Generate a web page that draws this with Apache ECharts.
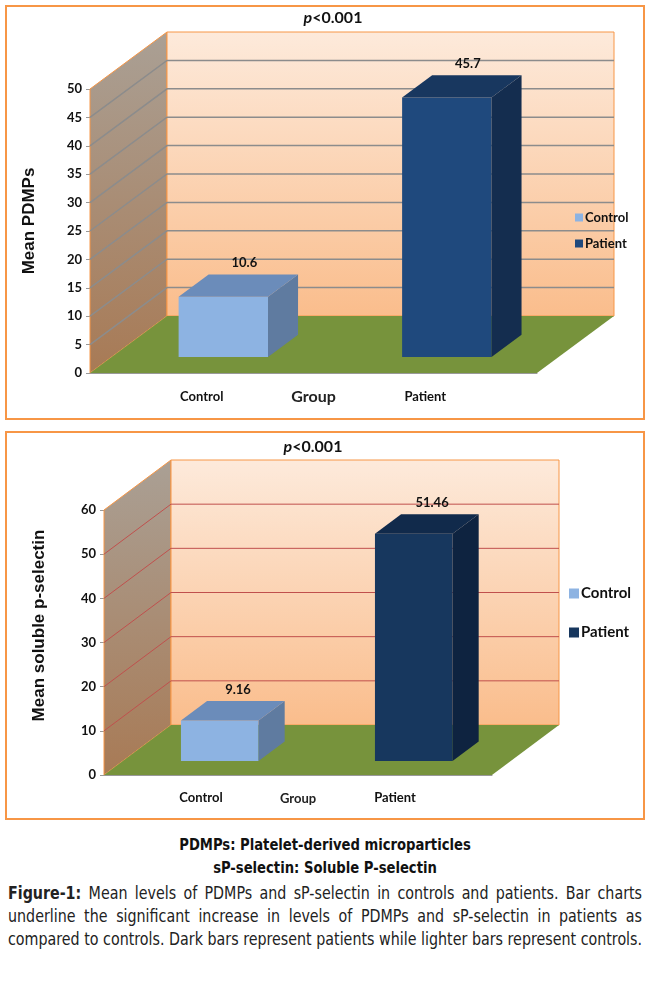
<!DOCTYPE html>
<html lang="en">

<head>
    <title>Mean PDMPs and sP-selectin</title>
    <meta charset="utf-8">
    <style>
        body {
            margin: 0;
            background-color: white;
            width: 650px;
            height: 984px;
            position: relative;
            overflow: hidden;
        }

        .frame {
            position: absolute;
            left: 5px;
            width: 636px;
            border: 2px solid #f79646;
        }

        .chart {
            position: absolute;
            left: 0;
            width: 650px;
        }

        .notes {
            position: absolute;
            left: 0;
            top: 833px;
            width: 650px;
            text-align: center;
            font-family: "DejaVu Sans Condensed", "DejaVu Sans", sans-serif;
            font-weight: bold;
            font-size: 16px;
            line-height: 23px;
            color: #111;
            transform: scaleX(0.915);
            transform-origin: 325px 0;
        }

        .caption {
            position: absolute;
            left: 8px;
            top: 881px;
            font-family: "DejaVu Sans Condensed", "DejaVu Sans", sans-serif;
            font-size: 18px;
            line-height: 23px;
            color: #222;
        }

        /* stretch each line to the page width, then squeeze it like a condensed face */
        .caption div {
            width: 720px;
            text-align: justify;
            text-align-last: justify;
            white-space: nowrap;
            transform: scaleX(0.8806);
            transform-origin: 0 0;
        }
    </style>
</head>

<body>
    <div class="frame" style="top: 5px; height: 411px"></div>
    <div class="frame" style="top: 431px; height: 385px"></div>
    <div id="chart1" class="chart" style="top: 0; height: 425px"></div>
    <div id="chart2" class="chart" style="top: 425px; height: 400px"></div>

    <div class="notes">
        <div>PDMPs: Platelet-derived microparticles</div>
        <div>sP-selectin: Soluble P-selectin</div>
    </div>
    <div class="caption">
        <div><b>Figure-1:</b> Mean levels of PDMPs and sP-selectin in controls and patients. Bar charts</div>
        <div>underline the significant increase in levels of PDMPs and sP-selectin in patients as</div>
        <div>compared to controls. Dark bars represent patients while lighter bars represent controls.</div>
    </div>

    <script src="https://cdn.jsdelivr.net/npm/echarts@6/dist/echarts.min.js"></script>
    <script>
        // data
        var groups = ["Control", "Patient"];
        var pdmpValues = [10.6, 45.7];
        var pdmpTicks = [0, 5, 10, 15, 20, 25, 30, 35, 40, 45, 50];
        var selectinValues = [9.16, 51.46];
        var selectinTicks = [0, 10, 20, 30, 40, 50, 60];
        var pText = "p<0.001";

        var FONT = "Lato, 'Liberation Sans', sans-serif";
        var ORANGE = "#f79646";

        // walls, floor and gridlines, offset (dx, dy) into depth
        function sceneItem(cfg) {
            return function (params, api) {
                var cs = params.coordSys;
                var x0 = cs.x, x1 = cs.x + cs.width;
                var yb = api.coord([0, 0])[1];
                var yt = api.coord([0, cfg.ticks[cfg.ticks.length - 1]])[1];
                var dx = cfg.dx, dy = cfg.dy;
                var kids = [];

                kids.push({
                    type: "polygon",
                    shape: { points: [[x0, yb], [x0, yt], [x0 + dx, yt + dy], [x0 + dx, yb + dy]] },
                    style: {
                        fill: new echarts.graphic.LinearGradient(0, 0, 0, 1, [
                            { offset: 0, color: "#aaa095" },
                            { offset: 1, color: "#a87a55" }
                        ]),
                        stroke: ORANGE, lineWidth: 1
                    }
                });
                kids.push({
                    type: "polygon",
                    shape: { points: [[x0 + dx, yt + dy], [x1 + dx, yt + dy], [x1 + dx, yb + dy], [x0 + dx, yb + dy]] },
                    style: {
                        fill: new echarts.graphic.LinearGradient(0, 0, 0, 1, [
                            { offset: 0, color: "#fdeadb" },
                            { offset: 1, color: "#fabd8c" }
                        ]),
                        stroke: ORANGE, lineWidth: 1
                    }
                });
                cfg.ticks.forEach(function (t, i) {
                    if (i === 0 || i === cfg.ticks.length - 1) return;
                    var y = api.coord([0, t])[1];
                    kids.push({
                        type: "polyline",
                        shape: { points: [[x0, y], [x0 + dx, y + dy], [x1 + dx, y + dy]] },
                        style: { fill: null, stroke: cfg.gridColor, lineWidth: cfg.gridWidth }
                    });
                });
                kids.push({
                    type: "polygon",
                    shape: { points: [[x0, yb], [x1, yb], [x1 + dx, yb + dy], [x0 + dx, yb + dy]] },
                    style: { fill: "#77933c" }
                });
                return { type: "group", children: kids };
            };
        }

        // one 3d box per bar
        function barItem(cfg, colors) {
            return function (params, api) {
                var idx = api.value(0), v = api.value(1);
                var base = api.coord([idx, 0]);
                var top = api.coord([idx, v]);
                var bw = api.size([1, 0])[0] * 0.40;
                var f1 = 0.28, f2 = 0.67;
                var fx = base[0] + f1 * cfg.dx - bw / 2;
                var by = base[1] + f1 * cfg.dy;
                var ty = top[1] + f1 * cfg.dy;
                var bdx = (f2 - f1) * cfg.dx, bdy = (f2 - f1) * cfg.dy;
                return {
                    type: "group",
                    children: [
                        {
                            type: "polygon",
                            shape: { points: [[fx, ty], [fx + bw, ty], [fx + bw, by], [fx, by]] },
                            style: { fill: colors[0] }
                        },
                        {
                            type: "polygon",
                            shape: { points: [[fx + bw, ty], [fx + bw + bdx, ty + bdy], [fx + bw + bdx, by + bdy], [fx + bw, by]] },
                            style: { fill: colors[1] }
                        },
                        {
                            type: "polygon",
                            shape: { points: [[fx, ty], [fx + bw, ty], [fx + bw + bdx, ty + bdy], [fx + bdx, ty + bdy]] },
                            style: { fill: colors[2] }
                        },
                        {
                            type: "text",
                            x: fx + bw / 2 + 0.7 * bdx,
                            y: ty + bdy - 5,
                            style: {
                                text: String(v),
                                font: "bold " + cfg.valueSize + "px " + FONT,
                                fill: "#111",
                                align: "center",
                                verticalAlign: "bottom"
                            }
                        }
                    ]
                };
            };
        }

        function makeOption(cfg) {
            var series = [{
                type: "custom",
                name: "scene",
                silent: true,
                z: 1,
                renderItem: sceneItem(cfg),
                data: [[0, 0]]
            }];
            groups.forEach(function (g, i) {
                series.push({
                    type: "custom",
                    name: g,
                    z: 2,
                    itemStyle: { color: cfg.barColors[i][0] },
                    renderItem: barItem(cfg, cfg.barColors[i]),
                    data: [[i, cfg.values[i]]]
                });
            });

            return {
                animation: false,
                grid: { left: cfg.left, top: cfg.top, width: cfg.width, height: cfg.height },
                graphic: [{
                    type: "text",
                    x: cfg.titleX,
                    y: cfg.titleY,
                    style: {
                        text: "{i|p}" + pText.slice(1),
                        font: "bold 16px " + FONT,
                        fill: "#111",
                        align: "center",
                        verticalAlign: "middle",
                        rich: { i: { fontStyle: "italic", fontWeight: "bold", fontSize: 16, fontFamily: FONT } }
                    }
                }],
                legend: {
                    data: groups,
                    orient: "vertical",
                    left: cfg.legendLeft,
                    top: cfg.legendTop,
                    icon: "rect",
                    itemWidth: cfg.legendIcon,
                    itemHeight: cfg.legendIcon,
                    itemGap: cfg.legendGap,
                    selectedMode: false,
                    textStyle: { fontFamily: FONT, fontWeight: "bold", fontSize: cfg.legendSize, color: "#111", padding: [0, 0, 0, -3] }
                },
                xAxis: {
                    type: "category",
                    data: groups,
                    name: "Group",
                    nameLocation: "middle",
                    nameGap: cfg.groupGap,
                    nameMoveOverlap: false,
                    nameTextStyle: { fontFamily: FONT, fontWeight: "bold", fontSize: cfg.groupSize, color: "#222" },
                    axisLine: { show: true, lineStyle: { color: "#999", width: 1 } },
                    axisTick: { show: false },
                    axisLabel: { margin: cfg.labelMargin, fontFamily: FONT, fontWeight: "bold", fontSize: 13, color: "#111" }
                },
                yAxis: {
                    type: "value",
                    min: 0,
                    max: cfg.ticks[cfg.ticks.length - 1],
                    interval: cfg.ticks[1] - cfg.ticks[0],
                    name: cfg.yName,
                    nameLocation: "middle",
                    nameGap: cfg.yNameGap,
                    nameMoveOverlap: false,
                    nameTextStyle: {
                        fontFamily: "'Liberation Sans', Arial, sans-serif", fontWeight: "bold",
                        fontSize: 17, color: "#111", padding: [0, 0, 0, cfg.yNameShift]
                    },
                    axisLine: { show: true, lineStyle: { color: ORANGE } },
                    axisTick: { show: true, length: 4, lineStyle: { color: "#999" } },
                    axisLabel: { margin: 8, fontFamily: FONT, fontWeight: "bold", fontSize: 13, color: "#111" },
                    splitLine: { show: false }
                },
                series: series
            };
        }

        var chart1 = echarts.init(document.getElementById("chart1"));
        chart1.setOption(makeOption({
            values: pdmpValues, ticks: pdmpTicks, yName: "Mean PDMPs",
            left: 90, top: 89, width: 447, height: 284,
            dx: 77, dy: -57,
            gridColor: "#8c8c8c", gridWidth: 1.5, valueSize: 13,
            barColors: [["#8db3e2", "#5f7ba0", "#6b8cba"], ["#1f497d", "#142d4f", "#18375f"]],
            titleX: 333, titleY: 18,
            legendLeft: 570, legendTop: 206, legendIcon: 8, legendGap: 13, legendSize: 13,
            groupGap: 16, groupSize: 16, labelMargin: 17,
            yNameGap: 52, yNameShift: 20
        }));

        var chart2 = echarts.init(document.getElementById("chart2"));
        chart2.setOption(makeOption({
            values: selectinValues, ticks: selectinTicks, yName: "Mean soluble p-selectin",
            left: 104, top: 85, width: 388, height: 265,
            dx: 67, dy: -50,
            gridColor: "#c0504d", gridWidth: 1, valueSize: 13,
            barColors: [["#8db3e2", "#5f7ba0", "#6b8cba"], ["#17375e", "#0e2340", "#112a4b"]],
            titleX: 313, titleY: 22,
            legendLeft: 564, legendTop: 156, legendIcon: 10, legendGap: 24, legendSize: 15,
            groupGap: 17, groupSize: 13, labelMargin: 16,
            yNameGap: 56, yNameShift: 34
        }));
    </script>
</body>

</html>
